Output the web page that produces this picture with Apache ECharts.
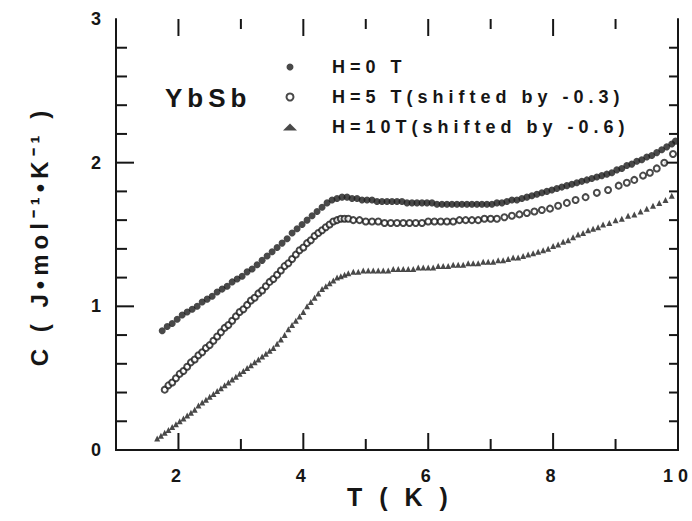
<!DOCTYPE html>
<html>
<head>
<meta charset="utf-8">
<script src="https://cdn.jsdelivr.net/npm/echarts@6/dist/echarts.min.js"></script>
<style>
  html, body { margin: 0; padding: 0; background: #fff; }
  .c { width: 692px; height: 521px; }
  .sp text { letter-spacing: 5px; }
</style>
</head>
<body>
<div id="c1" class="c sp"></div>
<script>
// ---- data ----
var seriesNames = ['H=0 T', 'H=5 T(shifted by -0.3)', 'H=10T(shifted by -0.6)'];
var xTickLabels = [2, 4, 6, 8, 10];
var xMajorTicks = [2, 4, 6, 8];
var xMinorTicks = [3, 5, 7, 9];
var yMajorTicks = [1, 2];
var yMinorTicks = [0.2, 0.4, 0.6, 0.8, 1.2, 1.4, 1.6, 1.8, 2.2, 2.4, 2.6, 2.8];
var xAxisTitle = 'T ( K )';
var yAxisTitle = 'C ( J\u2022mol\u207B\u00B9\u2022K\u207B\u00B9 )';
var sampleLabel = 'YbSb';

// H = 0 T
var T1 = [1.74,1.82,1.90,1.98,2.06,2.14,2.22,2.30,2.38,2.46,2.54,2.62,2.70,2.78,2.86,2.94,3.02,3.10,3.18,3.26,3.34,3.42,3.50,3.58,3.66,3.74,3.82,3.90,3.98,4.06,4.14,4.22,4.30,4.38,4.46,4.54,4.62,4.70,4.78,4.86,4.94,5.02,5.10,5.18,5.26,5.34,5.42,5.50,5.58,5.66,5.74,5.82,5.90,5.98,6.06,6.14,6.22,6.30,6.38,6.46,6.54,6.62,6.70,6.78,6.86,6.94,7.02,7.10,7.18,7.26,7.34,7.42,7.50,7.58,7.66,7.74,7.82,7.90,7.98,8.06,8.14,8.22,8.30,8.38,8.46,8.54,8.62,8.70,8.78,8.86,8.94,9.02,9.10,9.18,9.26,9.34,9.42,9.50,9.58,9.66,9.74,9.82,9.90,9.96];
var C1 = [0.83,0.86,0.88,0.91,0.94,0.96,0.98,1.00,1.03,1.05,1.07,1.10,1.12,1.14,1.17,1.19,1.21,1.24,1.26,1.29,1.32,1.35,1.38,1.41,1.44,1.47,1.51,1.54,1.57,1.60,1.63,1.66,1.69,1.72,1.74,1.75,1.76,1.76,1.75,1.75,1.74,1.74,1.74,1.73,1.73,1.73,1.73,1.73,1.73,1.72,1.72,1.72,1.72,1.72,1.72,1.71,1.71,1.71,1.71,1.71,1.71,1.71,1.71,1.71,1.71,1.71,1.71,1.72,1.72,1.73,1.74,1.74,1.75,1.76,1.77,1.78,1.79,1.80,1.81,1.82,1.83,1.84,1.85,1.86,1.87,1.88,1.89,1.90,1.91,1.92,1.93,1.95,1.96,1.98,1.99,2.01,2.02,2.04,2.05,2.07,2.09,2.11,2.13,2.15];

// H = 5 T (shifted by -0.3)
var T2 = [1.78,1.84,1.90,1.96,2.02,2.08,2.14,2.20,2.26,2.32,2.38,2.44,2.50,2.56,2.62,2.68,2.74,2.80,2.86,2.92,2.98,3.04,3.10,3.16,3.22,3.28,3.34,3.40,3.46,3.52,3.58,3.64,3.70,3.76,3.82,3.88,3.94,4.00,4.06,4.12,4.18,4.24,4.30,4.36,4.42,4.48,4.54,4.60,4.66,4.72,4.80,4.90,5.00,5.10,5.20,5.30,5.40,5.50,5.60,5.70,5.80,5.90,6.00,6.10,6.20,6.30,6.40,6.50,6.60,6.70,6.80,6.90,7.00,7.10,7.22,7.34,7.46,7.58,7.70,7.82,7.95,8.08,8.22,8.36,8.52,8.70,8.88,9.05,9.18,9.30,9.44,9.55,9.66,9.78,9.92];
var C2 = [0.42,0.45,0.47,0.50,0.53,0.55,0.58,0.61,0.63,0.66,0.68,0.71,0.73,0.76,0.79,0.82,0.85,0.87,0.90,0.93,0.96,0.98,1.01,1.04,1.06,1.09,1.11,1.14,1.17,1.19,1.22,1.25,1.28,1.30,1.33,1.36,1.39,1.41,1.44,1.46,1.49,1.51,1.53,1.55,1.57,1.59,1.60,1.61,1.61,1.61,1.60,1.60,1.59,1.59,1.59,1.58,1.58,1.58,1.58,1.58,1.58,1.58,1.59,1.59,1.59,1.59,1.59,1.60,1.60,1.60,1.60,1.61,1.61,1.61,1.62,1.63,1.64,1.65,1.66,1.67,1.68,1.70,1.72,1.74,1.76,1.79,1.81,1.84,1.86,1.88,1.91,1.93,1.96,2.00,2.06];

// H = 10 T (shifted by -0.6)
var T3 = [1.66,1.72,1.78,1.84,1.90,1.96,2.02,2.08,2.14,2.20,2.26,2.32,2.38,2.44,2.50,2.56,2.62,2.68,2.74,2.80,2.86,2.92,2.98,3.04,3.10,3.16,3.22,3.28,3.34,3.40,3.46,3.52,3.58,3.64,3.70,3.76,3.82,3.88,3.94,4.00,4.06,4.12,4.18,4.24,4.30,4.36,4.42,4.48,4.54,4.60,4.66,4.72,4.80,4.88,4.96,5.04,5.12,5.20,5.28,5.36,5.44,5.52,5.60,5.68,5.76,5.84,5.92,6.00,6.08,6.16,6.24,6.32,6.40,6.48,6.56,6.64,6.72,6.80,6.88,6.96,7.04,7.12,7.20,7.28,7.36,7.44,7.52,7.60,7.68,7.76,7.84,7.92,8.00,8.08,8.16,8.24,8.32,8.40,8.48,8.56,8.64,8.72,8.80,8.90,9.00,9.10,9.20,9.30,9.40,9.50,9.60,9.70,9.80,9.90];
var C3 = [0.08,0.10,0.12,0.14,0.16,0.18,0.20,0.22,0.24,0.26,0.28,0.31,0.33,0.35,0.37,0.39,0.41,0.43,0.45,0.47,0.49,0.51,0.53,0.55,0.57,0.59,0.61,0.63,0.65,0.67,0.69,0.71,0.74,0.77,0.80,0.84,0.87,0.90,0.93,0.96,1.00,1.03,1.06,1.09,1.12,1.14,1.16,1.18,1.20,1.21,1.22,1.23,1.24,1.24,1.25,1.25,1.25,1.25,1.25,1.25,1.26,1.26,1.26,1.26,1.26,1.27,1.27,1.27,1.27,1.28,1.28,1.28,1.29,1.29,1.29,1.30,1.30,1.30,1.31,1.31,1.31,1.32,1.32,1.33,1.34,1.34,1.35,1.36,1.37,1.38,1.39,1.40,1.42,1.43,1.45,1.46,1.48,1.50,1.51,1.53,1.54,1.55,1.57,1.58,1.60,1.61,1.63,1.64,1.66,1.68,1.70,1.72,1.74,1.77];

function mk(id) {
  var INK = '#161616';
  var FONT = '"Liberation Sans", Arial, sans-serif';
  var X_MIN = 1, X_MAX = 10, Y_MIN = 0, Y_MAX = 3;
  function zip(t, c) { return t.map(function (v, i) { return [v, c[i]]; }); }

  // frame tick marks: [x, y, kind]; kind picks side and length
  var tickData = [];
  xMajorTicks.forEach(function (v) { tickData.push([v, Y_MIN, 0]); tickData.push([v, Y_MAX, 2]); });
  xMinorTicks.forEach(function (v) { tickData.push([v, Y_MIN, 1]); tickData.push([v, Y_MAX, 3]); });
  yMajorTicks.forEach(function (v) { tickData.push([X_MIN, v, 4]); tickData.push([X_MAX, v, 6]); });
  yMinorTicks.forEach(function (v) { tickData.push([X_MIN, v, 5]); tickData.push([X_MAX, v, 7]); });
  var tickDir = [[0, -17], [0, -11], [0, 17], [0, 10], [18, 0], [11, 0], [-14, 0], [-9, 0]];

  var ch = echarts.init(document.getElementById(id), null, { renderer: 'svg' });
  ch.setOption({
    animation: false,
    title: { text: sampleLabel, left: 160, top: 80, textStyle: { fontFamily: FONT, fontWeight: 'bold', fontSize: 26, color: INK } },
    legend: { orient: 'vertical', left: 278, top: 53, itemWidth: 14, itemHeight: 7, itemGap: 12,
      textStyle: { fontFamily: FONT, fontWeight: 'bold', fontSize: 18, lineHeight: 18, color: INK, padding: [0,0,0,30] },
      data: [{ name: seriesNames[0], icon: 'circle' }, { name: seriesNames[1], icon: 'emptyCircle' }, { name: seriesNames[2], icon: 'triangle' }] },
    grid: { left: 116, right: 14, top: 19, bottom: 71 },
    graphic: [
      { type: 'text', x: 400, y: 484, style: { text: xAxisTitle, fontFamily: FONT, fontWeight: 'bold', fontSize: 25, fill: INK, align: 'center', verticalAlign: 'top' }, z: 10 },
      { type: 'text', x: 27, y: 236, rotation: Math.PI / 2, style: { text: yAxisTitle, fontFamily: FONT, fontWeight: 'bold', fontSize: 24, fill: INK, align: 'center', verticalAlign: 'top' }, z: 10 }
    ],
    xAxis: [
      { type: 'value', position: 'bottom', min: X_MIN, max: X_MAX, interval: 1,
        axisLine: { show: true, lineStyle: { color: INK, width: 2 } },
        axisTick: { show: false },
        axisLabel: { customValues: xTickLabels, margin: 17, fontFamily: FONT, fontWeight: 'bold', fontSize: 18, color: INK },
        splitLine: { show: false } },
      { type: 'value', position: 'top', min: X_MIN, max: X_MAX, interval: 1,
        axisLine: { show: true, lineStyle: { color: INK, width: 2 } },
        axisTick: { show: false },
        axisLabel: { show: false }, splitLine: { show: false } }
    ],
    yAxis: [
      { type: 'value', position: 'left', min: Y_MIN, max: Y_MAX, interval: 1,
        axisLine: { show: true, lineStyle: { color: INK, width: 2 } },
        axisTick: { show: false },
        axisLabel: { margin: 10, fontFamily: FONT, fontWeight: 'bold', fontSize: 18, color: INK },
        splitLine: { show: false } },
      { type: 'value', position: 'right', min: Y_MIN, max: Y_MAX, interval: 1,
        axisLine: { show: true, lineStyle: { color: INK, width: 2 } },
        axisTick: { show: false },
        axisLabel: { show: false }, splitLine: { show: false } }
    ],
    series: [
      { name: seriesNames[0], type: 'scatter', symbol: 'circle', symbolSize: 7, itemStyle: { color: '#1c1c1c' }, data: zip(T1, C1) },
      { name: seriesNames[1], type: 'scatter', symbol: 'emptyCircle', symbolSize: 6, itemStyle: { color: '#1c1c1c', borderColor: '#1c1c1c', borderWidth: 1.6 }, data: zip(T2, C2) },
      { name: seriesNames[2], type: 'scatter', symbol: 'triangle', symbolSize: 6, itemStyle: { color: '#1c1c1c' }, data: zip(T3, C3) },
      { name: 'frame ticks', type: 'custom', coordinateSystem: 'cartesian2d', silent: true, clip: false,
        encode: { x: 0, y: 1 },
        renderItem: function (params, api) {
          var p = api.coord([api.value(0), api.value(1)]);
          var d = tickDir[api.value(2)];
          return { type: 'line', shape: { x1: p[0], y1: p[1], x2: p[0] + d[0], y2: p[1] + d[1] },
                   style: { stroke: INK, lineWidth: 2 } };
        },
        data: tickData }
    ]
  });
}
mk('c1');
</script>
</body>
</html>
